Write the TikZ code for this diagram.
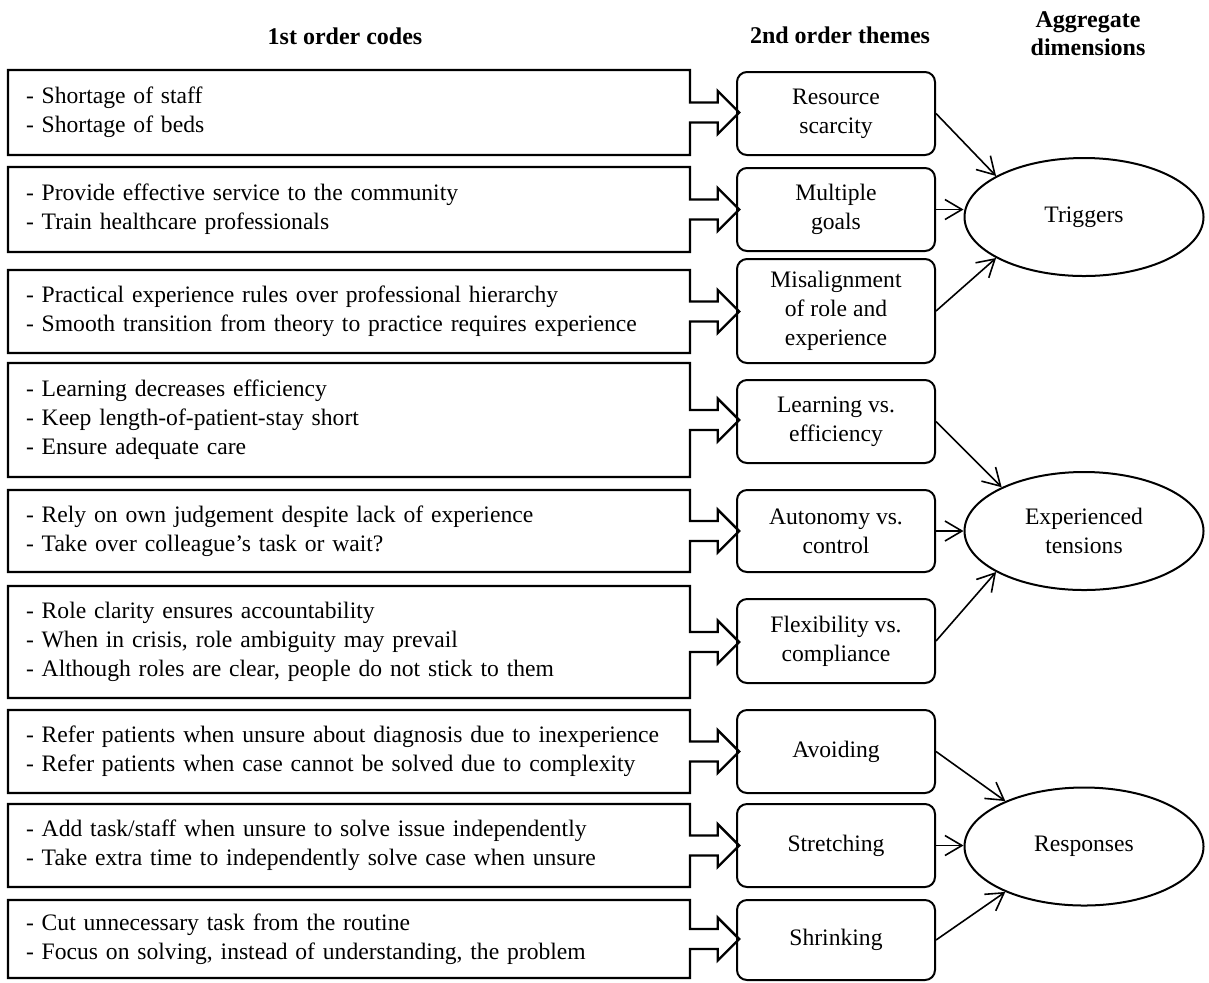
\documentclass[tikz,border=0pt]{standalone}
\usepackage{fontspec}
\setmainfont{Liberation Serif}
\usetikzlibrary{shapes.arrows,shapes.geometric,arrows.meta}
\hyphenpenalty=10000

\begin{document}
\begin{tikzpicture}[x=0.5pt,y=-0.5pt,
    font=\fontsize{11.8}{14.5}\selectfont,
    header/.style={font=\fontsize{12}{14}\selectfont\bfseries,align=center,anchor=center},
    codebox/.style={arrow box,draw,line width=1.2pt,anchor=center,
      text width=323pt,inner xsep=9pt,align=left,
      arrow box north arrow=0pt,arrow box south arrow=0pt,
      arrow box west arrow=0pt,arrow box east arrow=24pt,
      arrow box shaft width=10pt,arrow box head extend=5.75pt,
      arrow box tip angle=90},
    themebox/.style={draw,rounded corners=5pt,line width=1pt,align=center,
      minimum width=99pt,anchor=center},
    dimnode/.style={ellipse,draw,line width=1pt,align=center,
      minimum width=119.5pt,minimum height=59pt,inner sep=0pt},
    link/.style={-{Straight Barb[length=8.5pt,width=10pt]},line width=0.8pt}]
    \useasboundingbox (0,0) rectangle (1209,982);

    % column headers
    \node (h1) [header] at (345,36) {1st order codes};
    \node (h2) [header] at (840,35) {2nd order themes};
    \node (h3) [header] at (1088,34) {Aggregate\\dimensions};

    % 1st order codes
    \node (c1) [codebox,minimum height=42.5pt] at (349,112.5) {- Shortage of staff\\- Shortage of beds};
    \node (c2) [codebox,minimum height=42.5pt] at (349,209.5) {- Provide effective service to the community\\- Train healthcare professionals};
    \node (c3) [codebox,minimum height=41.5pt] at (349,311.5) {- Practical experience rules over professional hierarchy\\- Smooth transition from theory to practice requires experience};
    \node (c4) [codebox,minimum height=57pt] at (349,420) {- Learning decreases efficiency\\- Keep length-of-patient-stay short\\- Ensure adequate care};
    \node (c5) [codebox,minimum height=41pt] at (349,531) {- Rely on own judgement despite lack of experience\\- Take over colleague's task or wait?};
    \node (c6) [codebox,minimum height=56pt] at (349,642) {- Role clarity ensures accountability\\- When in crisis, role ambiguity may prevail\\- Although roles are clear, people do not stick to them};
    \node (c7) [codebox,minimum height=41.5pt] at (349,751.5) {- Refer patients when unsure about diagnosis due to inexperience\\- Refer patients when case cannot be solved due to complexity};
    \node (c8) [codebox,minimum height=41.5pt] at (349,845.5) {- Add task/staff when unsure to solve issue independently\\- Take extra time to independently solve case when unsure};
    \node (c9) [codebox,minimum height=39pt] at (349,939) {- Cut unnecessary task from the routine\\- Focus on solving, instead of understanding, the problem};

    % 2nd order themes
    \node (t1) [themebox,minimum height=41.5pt] at (836,113.5) {Resource\\scarcity};
    \node (t2) [themebox,minimum height=41.5pt] at (836,209.5) {Multiple\\goals};
    \node (t3) [themebox,minimum height=52pt] at (836,311) {Misalignment\\of role and\\experience};
    \node (t4) [themebox,minimum height=41.5pt] at (836,421.5) {Learning vs.\\efficiency};
    \node (t5) [themebox,minimum height=41pt] at (836,531) {Autonomy vs.\\control};
    \node (t6) [themebox,minimum height=42pt] at (836,641) {Flexibility vs.\\compliance};
    \node (t7) [themebox,minimum height=41.5pt] at (836,751.5) {Avoiding};
    \node (t8) [themebox,minimum height=41.5pt] at (836,845.5) {Stretching};
    \node (t9) [themebox,minimum height=40pt] at (836,940) {Shrinking};

    % aggregate dimensions
    \node (trig) [dimnode] at (1084,217) {Triggers};
    \node (tens) [dimnode] at (1084,531) {Experienced\\tensions};
    \node (resp) [dimnode] at (1084,846.5) {Responses};

    \draw (t1.east) edge[link] (trig.155);
    \draw (t2.east) edge[link] (t2.east -| trig.west);
    \draw (t3.east) edge[link] (trig.205);
    \draw (t4.east) edge[link] (tens.152);
    \draw (t5.east) edge[link] (tens.west);
    \draw (t6.east) edge[link] (tens.205);
    \draw (t7.east) edge[link] (resp.150);
    \draw (t8.east) edge[link] (t8.east -| resp.west);
    \draw (t9.east) edge[link] (resp.210);
  \end{tikzpicture}
\end{document}
